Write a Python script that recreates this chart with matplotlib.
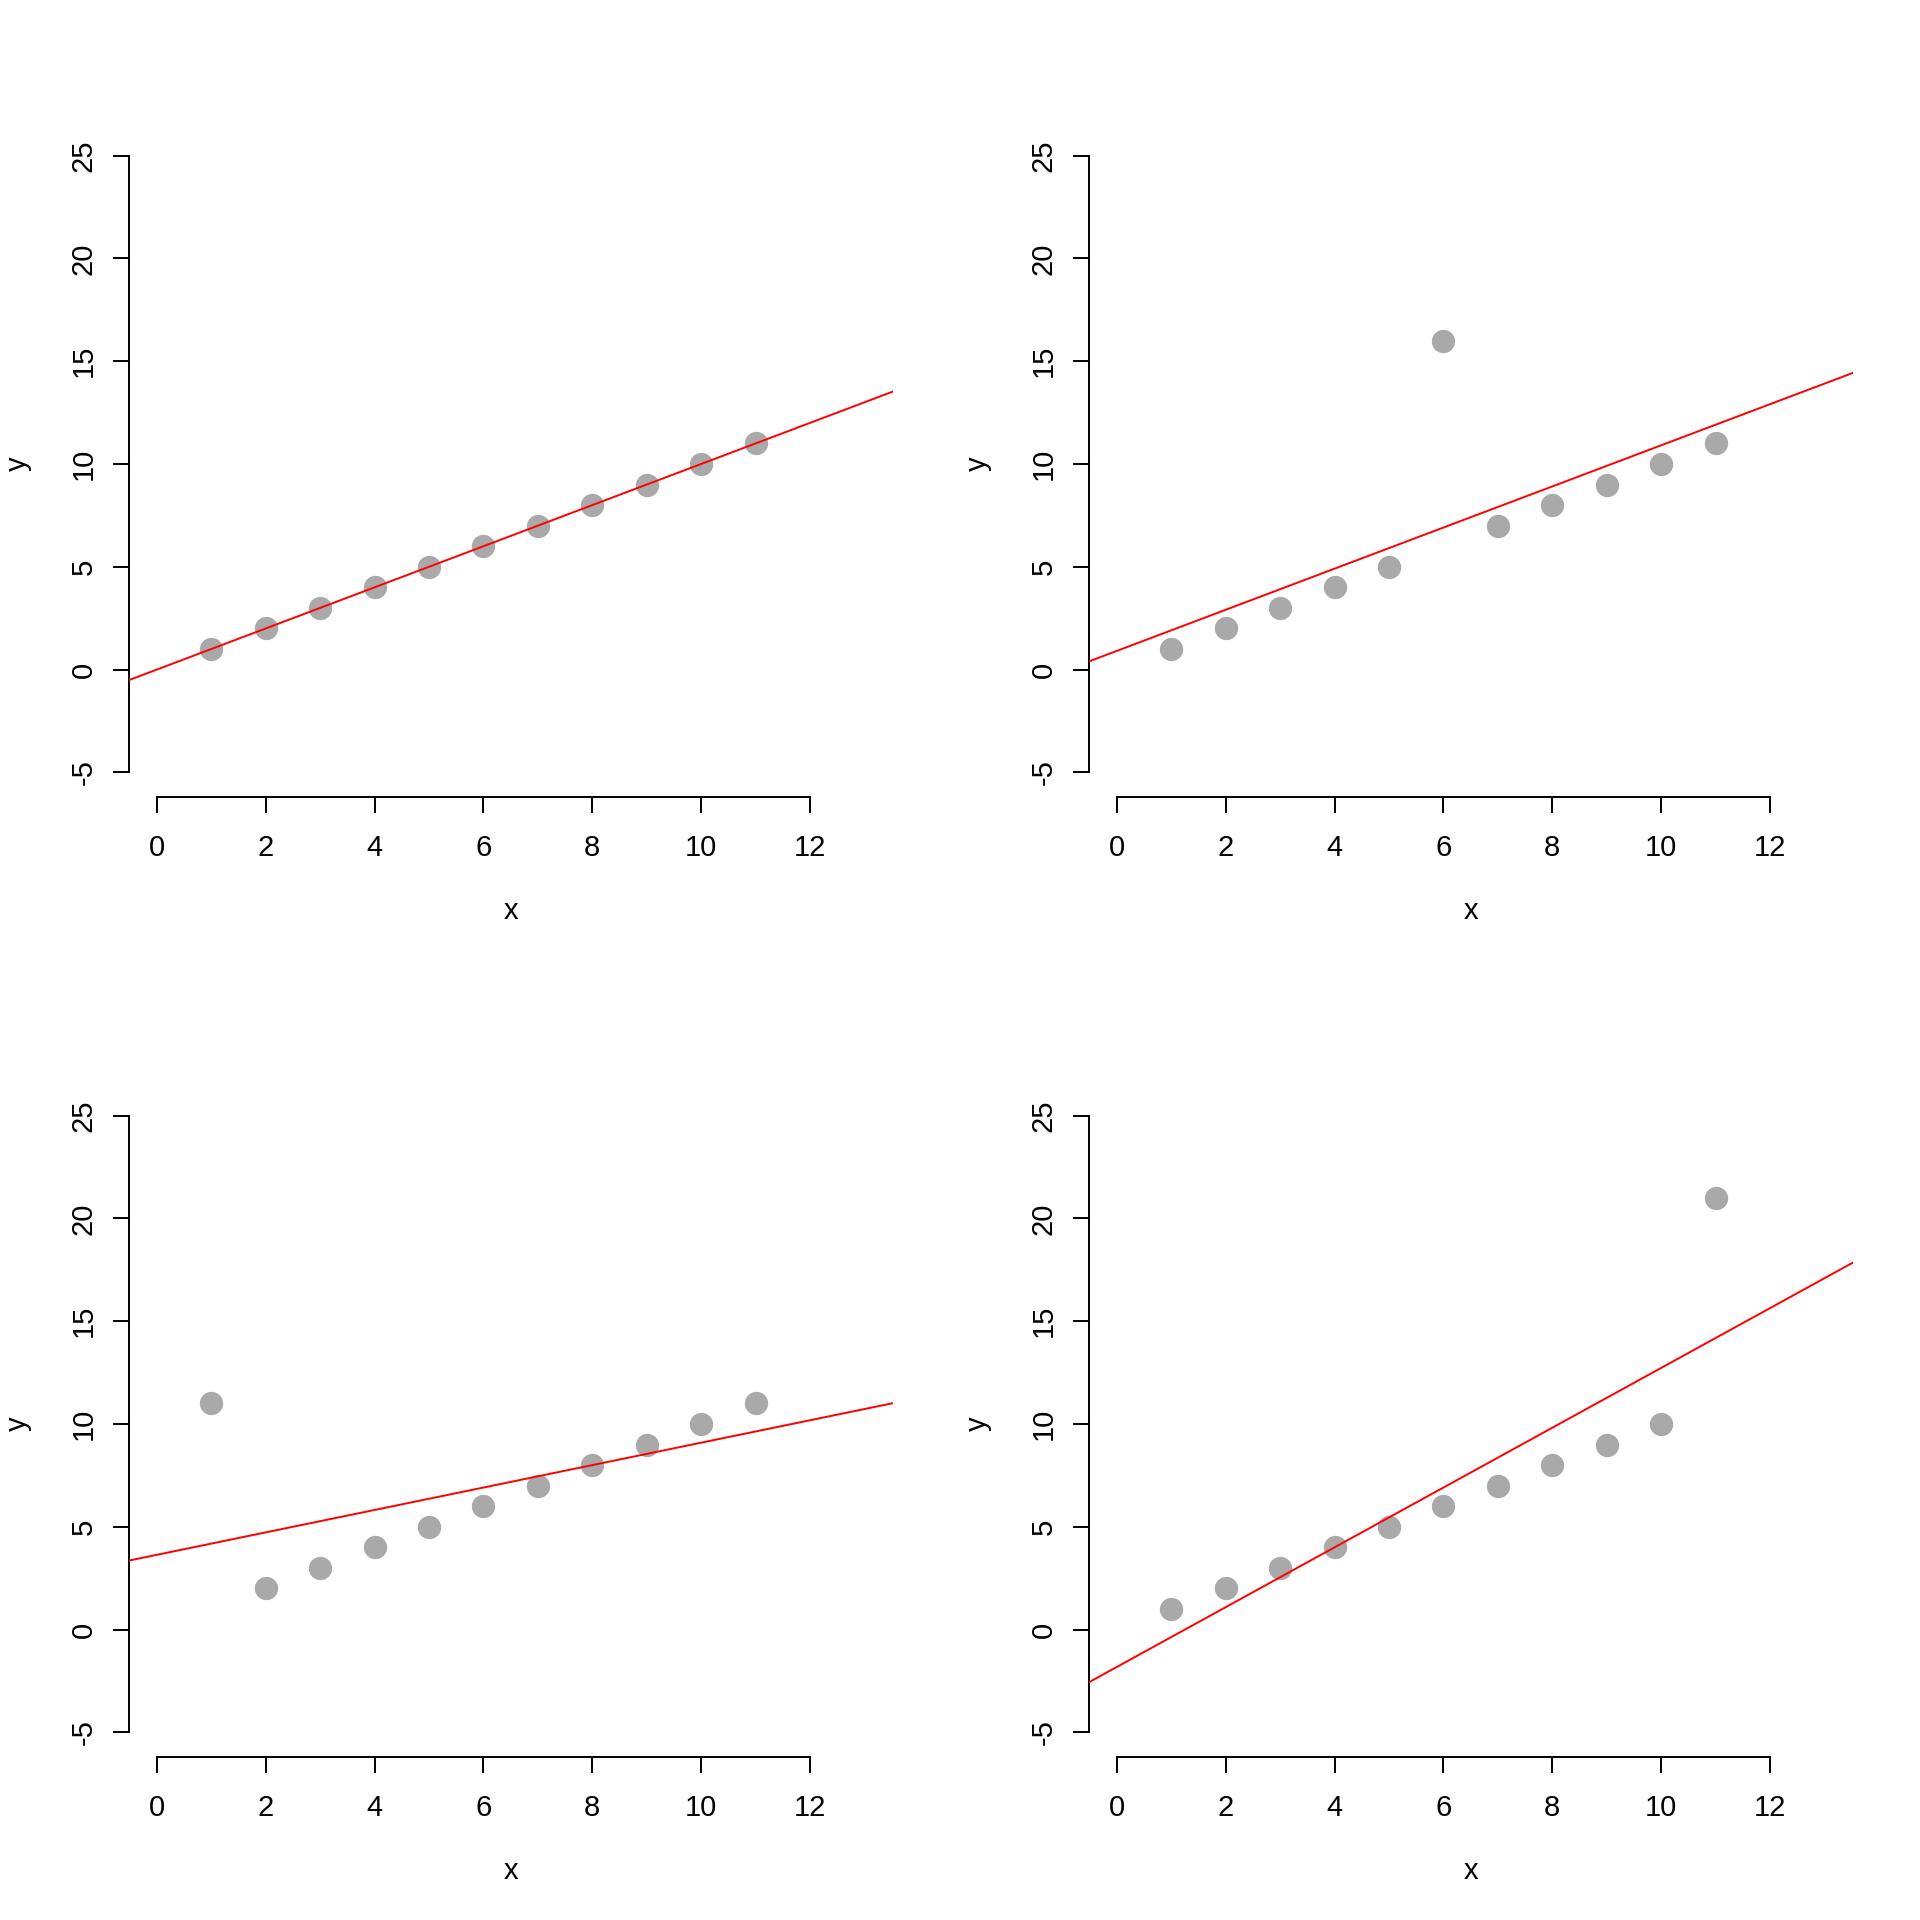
import numpy as np
import matplotlib
matplotlib.use("Agg")
import matplotlib.pyplot as plt

plt.rcParams['font.family'] = ['Liberation Sans', 'DejaVu Sans']

x = [1, 2, 3, 4, 5, 6, 7, 8, 9, 10, 11]
y1 = [1, 2, 3, 4, 5, 6, 7, 8, 9, 10, 11]
y2 = [1, 2, 3, 4, 5, 16, 7, 8, 9, 10, 11]
y3 = [11, 2, 3, 4, 5, 6, 7, 8, 9, 10, 11]
y4 = [1, 2, 3, 4, 5, 6, 7, 8, 9, 10, 21]
series = [y1, y2, y3, y4]

xticks = [0, 2, 4, 6, 8, 10, 12]
yticks = [-5, 0, 5, 10, 15, 20, 25]

fig = plt.figure(figsize=(19.2, 19.2), dpi=100)

W = 1920.0
# plot region in pixels for panel (0,0)
L, R, T, B = 128.6, 892.7, 131.0, 797.0
FS = 21
tick_len = 11.5
for i, ys in enumerate(series):
    row, col = divmod(i, 2)
    left = (L + col * 960) / W
    right = (R + col * 960) / W
    top = 1 - (T + row * 960) / W
    bottom = 1 - (B + row * 960) / W
    ax = fig.add_axes([left, bottom, right - left, top - bottom])
    ax.set_xlim(-0.52, 13.52)
    ax.set_ylim(-6.2, 26.2)
    ax.plot(x, ys, 'o', color='#A9A9A9', markersize=16.8, markeredgewidth=0, zorder=2)
    m, b = np.polyfit(x, ys, 1)
    ax.axline((0, b), slope=m, color='red', linewidth=1.4, zorder=3)
    for s in ['top', 'right']:
        ax.spines[s].set_visible(False)
    ax.spines['left'].set_bounds(-5, 25)
    ax.spines['bottom'].set_bounds(0, 12)
    for s in ['left', 'bottom']:
        ax.spines[s].set_linewidth(1.4)
    ax.set_xticks(xticks)
    ax.set_yticks(yticks)
    ax.set_xticklabels([str(v) for v in xticks])
    ax.set_yticklabels([str(v) for v in yticks], rotation=90, va='center')
    ax.tick_params(axis='both', length=tick_len, width=1.4, labelsize=FS)
    ax.tick_params(axis='x', pad=15.5)
    ax.tick_params(axis='y', pad=10.8)
    ax.set_xlabel('x', fontsize=FS, labelpad=25)
    ax.set_ylabel('y', fontsize=FS, labelpad=27.5)

fig.savefig('out.png', dpi=100)
